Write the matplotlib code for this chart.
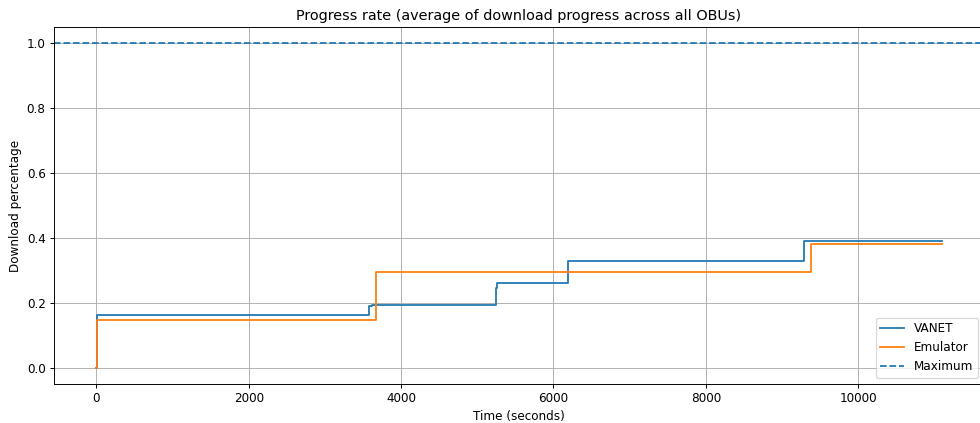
import matplotlib.pyplot as plt

# download progress
vanet_t = [0, 15, 3585, 3620, 5245, 5265, 6185, 9290, 11100]
vanet_v = [0, 0.163, 0.190, 0.193, 0.245, 0.262, 0.330, 0.392, 0.392]

emu_t = [0, 15, 3670, 9375, 11100]
emu_v = [0, 0.148, 0.295, 0.382, 0.382]

maximum = 1.0

dpi = 86
fig = plt.figure(figsize=(980 / dpi, 423 / dpi), dpi=dpi)
ax = fig.add_axes([0.0551, 0.0922, 0.949, 0.844])

ax.plot(vanet_t, vanet_v, drawstyle='steps-post', label='VANET')
ax.plot(emu_t, emu_v, drawstyle='steps-post', label='Emulator')
ax.axhline(maximum, linestyle='--', label='Maximum')

ax.set_xlim(-555, 11650)
ax.set_ylim(-0.05, 1.05)
ax.set_title('Progress rate (average of download progress across all OBUs)')
ax.set_xlabel('Time (seconds)')
ax.set_ylabel('Download percentage')
ax.grid(True)
ax.legend(loc='lower right')

fig.savefig('out.png', dpi=dpi)
